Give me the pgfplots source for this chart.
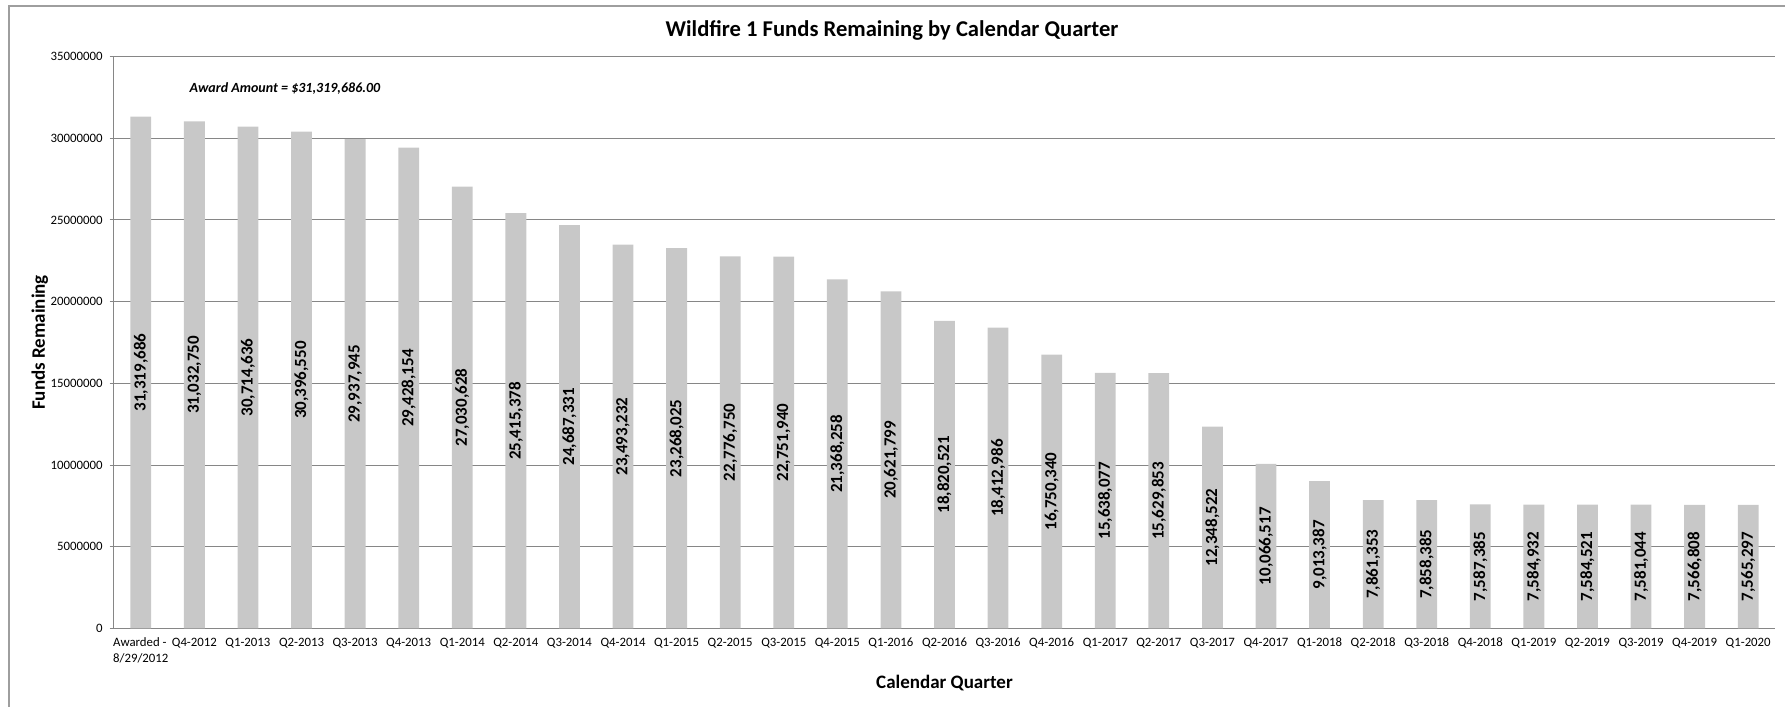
\documentclass[border=0pt]{standalone}
\usepackage{pgfplots}
\pgfplotsset{compat=1.18}
\usepackage{pgfplotstable}
\usepackage{fontspec}
\setmainfont{Carlito}

\definecolor{barfill}{RGB}{200,200,200}
\definecolor{gridgray}{RGB}{134,134,134}

% funds remaining per quarter
\pgfplotstableread{
x  y         lab
0  31319686  31,319,686
1  31032750  31,032,750
2  30714636  30,714,636
3  30396550  30,396,550
4  29937945  29,937,945
5  29428154  29,428,154
6  27030628  27,030,628
7  25415378  25,415,378
8  24687331  24,687,331
9  23493232  23,493,232
10 23268025  23,268,025
11 22776750  22,776,750
12 22751940  22,751,940
13 21368258  21,368,258
14 20621799  20,621,799
15 18820521  18,820,521
16 18412986  18,412,986
17 16750340  16,750,340
18 15638077  15,638,077
19 15629853  15,629,853
20 12348522  12,348,522
21 10066517  10,066,517
22 9013387   9,013,387
23 7861353   7,861,353
24 7858385   7,858,385
25 7587385   7,587,385
26 7584932   7,584,932
27 7584521   7,584,521
28 7581044   7,581,044
29 7566808   7,566,808
30 7565297   7,565,297
}\funds

\begin{document}
\begin{tikzpicture}
\useasboundingbox (0,0) rectangle (892.5pt,353.5pt);
\draw[gridgray!80, line width=0.6pt] (4.5pt,0) -- (4.5pt,350.5pt) -- (892.5pt,350.5pt);
\begin{axis}[
    at={(57pt,39.25pt)}, anchor=south west,
    scale only axis,
    width=830.5pt, height=286pt,
    xmin=-0.5, xmax=30.5,
    ymin=0, ymax=35000000,
    ytick={0,5000000,10000000,15000000,20000000,25000000,30000000,35000000},
    scaled y ticks=false,
    yticklabel style={font=\fontsize{6.4}{7.6}\selectfont,
        /pgf/number format/.cd, fixed, precision=0, 1000 sep={}},
    /pgf/number format/assume math mode=true,
    xtick={0,...,30},
    xticklabels={{Awarded -\\8/29/2012},Q4-2012,Q1-2013,Q2-2013,Q3-2013,Q4-2013,
        Q1-2014,Q2-2014,Q3-2014,Q4-2014,Q1-2015,Q2-2015,Q3-2015,Q4-2015,
        Q1-2016,Q2-2016,Q3-2016,Q4-2016,Q1-2017,Q2-2017,Q3-2017,Q4-2017,
        Q1-2018,Q2-2018,Q3-2018,Q4-2018,Q1-2019,Q2-2019,Q3-2019,Q4-2019,Q1-2020},
    minor xtick={-0.5,0.5,...,30.5},
    xticklabel style={align=left, font=\fontsize{6.4}{7.6}\selectfont, yshift=1pt},
    axis x line*=bottom, axis y line*=left,
    axis line style={gridgray, line width=0.5pt},
    tick align=outside,
    major tick length=2.2pt, minor tick length=2.2pt,
    xtick style={draw=none},
    minor x tick style={gridgray, line width=0.5pt},
    ytick style={gridgray, line width=0.5pt},
    ymajorgrids,
    grid style={gridgray, line width=0.5pt},
    title={Wildfire 1 Funds Remaining by Calendar Quarter},
    xlabel={Calendar Quarter},
    ylabel={Funds Remaining},
    every axis title/.style={at={(axis description cs:0.4684,1.0448)}, anchor=center,
        font=\bfseries\fontsize{11.3}{13}\selectfont},
    every axis x label/.style={at={(axis description cs:0.5,-0.0953)}, anchor=center,
        font=\bfseries\fontsize{9.5}{11}\selectfont},
    every axis y label/.style={at={(axis description cs:-0.0446,0.5)}, rotate=90, anchor=center,
        font=\bfseries\fontsize{9.5}{11}\selectfont},
    clip=false,
]
\addplot[ybar, bar width=10.4pt, fill=barfill, draw=none] table[x=x, y=y] {\funds};
\addplot[draw=none, mark=none,
    nodes near coords=\pgfplotspointmeta,
    point meta=explicit symbolic,
    nodes near coords style={rotate=90, anchor=center,
        font=\bfseries\fontsize{8.5}{10}\selectfont}]
    table[x=x, y expr=\thisrow{y}/2, meta=lab] {\funds};
\node[font=\bfseries\itshape\fontsize{7}{8}\selectfont, anchor=center]
    at (axis cs:2.69,33050000) {Award Amount = \$31,319,686.00};
\end{axis}
\end{tikzpicture}
\end{document}
